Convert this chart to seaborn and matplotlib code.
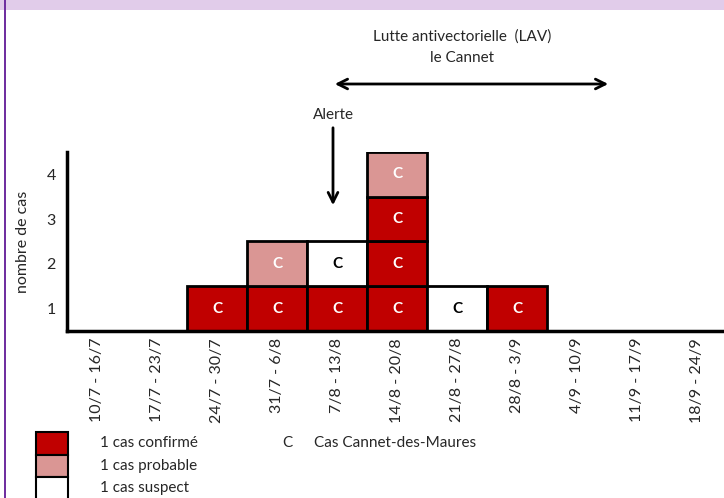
import matplotlib
matplotlib.use("Agg")
import matplotlib.pyplot as plt
import matplotlib.patches as mpatches
import seaborn as sns
import pandas as pd

# weekly cases, Cannet-des-Maures
weeks = ["10/7 - 16/7", "17/7 - 23/7", "24/7 - 30/7", "31/7 - 6/8", "7/8 - 13/8",
         "14/8 - 20/8", "21/8 - 27/8", "28/8 - 3/9", "4/9 - 10/9", "11/9 - 17/9",
         "18/9 - 24/9"]
confirmed = [0, 0, 1, 1, 1, 3, 0, 1, 0, 0, 0]
probable = [0, 0, 0, 1, 0, 1, 0, 0, 0, 0, 0]
suspect = [0, 0, 0, 0, 1, 0, 1, 0, 0, 0, 0]
y_ticks = [1, 2, 3, 4]

status_colors = {"confirmé": "#C00000", "probable": "#DA9694", "suspect": "#FFFFFF"}
letter_colors = {"confirmé": "white", "probable": "white", "suspect": "black"}

# one row per case, stacked confirmed -> probable -> suspect
rows = []
for w, c, p, s in zip(weeks, confirmed, probable, suspect):
    level = 1
    for status, n in (("confirmé", c), ("probable", p), ("suspect", s)):
        for _ in range(n):
            rows.append({"week": w, "status": status, "level": level})
            level += 1
cases = pd.DataFrame(rows)

sns.set_style("white")
plt.rcParams["font.family"] = ["Lato", "DejaVu Sans"]

W, H = 724, 498
fig = plt.figure(figsize=(W / 100, H / 100), dpi=100)
ax = fig.add_axes([67 / W, (H - 331) / H, 660 / W, 179 / H])

# category axis in week order
ax.bar(weeks, [0] * len(weeks), width=1.0)
for _, r in cases.iterrows():
    ax.bar(r["week"], 1, bottom=r["level"] - 0.5, width=1.0,
           color=status_colors[r["status"]], edgecolor="black", linewidth=2, zorder=2)
    ax.text(weeks.index(r["week"]), r["level"], "C", ha="center", va="center",
            fontsize=11, fontweight="bold", color=letter_colors[r["status"]], zorder=3)

ax.set_xlim(-0.5, len(weeks) - 0.5)
ax.set_ylim(0.5, 4.5)
ax.set_yticks(y_ticks)
ax.set_yticklabels([str(t) for t in y_ticks], fontsize=11.5)
ax.tick_params(axis="y", length=0, pad=8)
ax.set_xticks(range(len(weeks)))
ax.set_xticklabels(weeks, rotation=90, fontsize=11.5)
ax.tick_params(axis="x", length=0, pad=5)
ax.set_xticks([i + 0.5 for i in range(len(weeks))], minor=True)
ax.tick_params(axis="x", which="minor", length=3, width=1, color="black", direction="out")
ax.set_ylabel("nombre de cas", fontsize=11.5)
ax.yaxis.set_label_coords((30 - 67) / 660, 0.5)
for side in ["top", "right"]:
    ax.spines[side].set_visible(False)
for side in ["left", "bottom"]:
    ax.spines[side].set_color("black")
    ax.spines[side].set_linewidth(2.5)

# annotations (figure pixels)
fig.text(462 / W, (H - 37) / H, "Lutte antivectorielle  (LAV)", ha="center", va="center", fontsize=11)
fig.text(462 / W, (H - 58) / H, "le Cannet", ha="center", va="center", fontsize=11)
ax.annotate("", xy=(332, H - 84), xytext=(611, H - 84), xycoords="figure pixels",
            textcoords="figure pixels",
            arrowprops=dict(arrowstyle="<->,head_length=0.7,head_width=0.35", lw=2, color="black"))
fig.text(333 / W, (H - 115) / H, "Alerte", ha="center", va="center", fontsize=11)
ax.annotate("", xy=(333, H - 208), xytext=(333, H - 125), xycoords="figure pixels",
            textcoords="figure pixels",
            arrowprops=dict(arrowstyle="->,head_length=0.7,head_width=0.35", lw=2, color="black"))

# legend
legend_items = [("confirmé", "1 cas confirmé"), ("probable", "1 cas probable"), ("suspect", "1 cas suspect")]
for i, (status, label) in enumerate(legend_items):
    top = 432 + i * 22.5
    fig.patches.append(mpatches.Rectangle((36 / W, (H - top - 22.5) / H), 32 / W, 22.5 / H,
                                          transform=fig.transFigure, facecolor=status_colors[status],
                                          edgecolor="black", linewidth=1.5))
    fig.text(100 / W, (H - top - 11) / H, label, ha="left", va="center", fontsize=11)
fig.text(287 / W, (H - 443) / H, "C", ha="center", va="center", fontsize=11)
fig.text(314 / W, (H - 443) / H, "Cas Cannet-des-Maures", ha="left", va="center", fontsize=11)

# frame decoration
fig.patches.append(mpatches.Rectangle((0, (H - 10) / H), 1, 10 / H, transform=fig.transFigure,
                                      facecolor="#E1CCEA", edgecolor="none"))
fig.patches.append(mpatches.Rectangle((4 / W, 0), 2 / W, 1, transform=fig.transFigure,
                                      facecolor="#7030A0", edgecolor="none"))

fig.savefig("out.png", dpi=100)
